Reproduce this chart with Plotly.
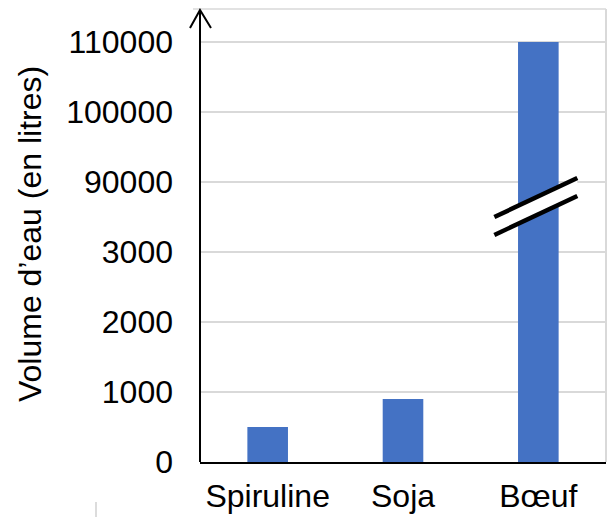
import plotly.graph_objects as go

# ---- data ----
categories = ["Spiruline", "Soja", "Bœuf"]
volumes = [500, 900, 110000]          # litres d'eau
tick_values = [0, 1000, 2000, 3000, 90000, 100000, 110000]
tick_labels = ["0", "1000", "2000", "3000", "90000", "100000", "110000"]

# broken axis scale: 0..3000 linear, then 90000.. compressed (10000 per 1000 unit)
LOW_MAX = 3000
HIGH_START = 90000
HIGH_POS = 4000


def break_scale(v):
    if v <= LOW_MAX:
        return v
    return HIGH_POS + (v - HIGH_START) / 10.0


bar_pos = [break_scale(v) for v in volumes]
tick_pos = [break_scale(v) for v in tick_values]

W, H = 612, 517
L, R, T, B = 200, 6, 9, 55
plot_w = W - L - R
plot_h = H - T - B
y_top = 453 * 1000 / 70.0   # axis top in scaled units

FONT = "Liberation Sans, Arial, sans-serif"
FS = 32

fig = go.Figure()
fig.add_trace(go.Bar(x=categories, y=bar_pos, marker=dict(color="#4472C4", line=dict(width=0)),
                     hoverinfo="skip"))


def px_x(px):
    return (px - L) / plot_w


def px_y(py):
    return (H - B - py) / plot_h


shapes = []
# light grey frame top & right
shapes.append(dict(type="line", xref="paper", yref="paper", x0=px_x(193), x1=1, y0=1, y1=1,
                   line=dict(color="#d9d9d9", width=1.5), layer="below"))
shapes.append(dict(type="line", xref="paper", yref="paper", x0=1, x1=1, y0=0, y1=1,
                   line=dict(color="#d9d9d9", width=2), layer="below"))
# axis arrow
shapes.append(dict(type="path", xref="paper", yref="paper",
                   path=f"M {px_x(190)} {px_y(28)} L {px_x(200)} {px_y(10)} L {px_x(211)} {px_y(28)}",
                   line=dict(color="black", width=2)))
shapes.append(dict(type="line", xref="paper", yref="paper", x0=0, x1=0, y0=0, y1=px_y(10),
                   line=dict(color="black", width=2)))
# break marks on the Boeuf bar
bx0, bx1 = 2 - 0.325, 2 + 0.288
up0, up1 = 3500, 4057
lo0, lo1 = 3243, 3800
shapes.append(dict(type="path", xref="x", yref="y",
                   path=f"M {bx0} {lo0} L {bx1} {lo1} L {bx1} {up1} L {bx0} {up0} Z",
                   fillcolor="white", line=dict(width=0)))
shapes.append(dict(type="line", xref="x", yref="y", x0=bx0, x1=bx1, y0=up0, y1=up1,
                   line=dict(color="black", width=4.5)))
shapes.append(dict(type="line", xref="x", yref="y", x0=bx0, x1=bx1, y0=lo0, y1=lo1,
                   line=dict(color="black", width=4.5)))
# small grey mark bottom-left
shapes.append(dict(type="line", xref="paper", yref="paper", x0=px_x(96), x1=px_x(96),
                   y0=px_y(502), y1=px_y(517), line=dict(color="#d0d0d0", width=1.5)))

fig.update_layout(
    width=W, height=H,
    margin=dict(l=L, r=R, t=T, b=B, autoexpand=False),
    paper_bgcolor="white", plot_bgcolor="white",
    showlegend=False,
    bargap=0.7,
    font=dict(family=FONT, size=FS, color="black"),
    shapes=shapes,
    annotations=[dict(text="Volume d’eau (en litres)", textangle=-90, xref="paper", yref="paper",
                      x=px_x(30), y=px_y(234), xanchor="center", yanchor="middle",
                      showarrow=False, font=dict(family=FONT, size=FS, color="black"))],
)
fig.update_xaxes(showline=True, linecolor="black", linewidth=2, showgrid=False,
                 ticks="", ticklabelstandoff=5, tickfont=dict(size=FS, family=FONT, color="black"),
                 fixedrange=True)
fig.update_yaxes(range=[0, y_top], tickmode="array", tickvals=tick_pos, ticktext=tick_labels,
                 showgrid=True, gridcolor="#d9d9d9", gridwidth=1.5, zeroline=False,
                 showline=False, ticks="", ticklabelstandoff=26,
                 tickfont=dict(size=FS, family=FONT, color="black"), fixedrange=True)

fig.write_html("out.html", config={"displayModeBar": False},
               post_script="document.body.style.margin='0';document.body.style.overflow='hidden';")
